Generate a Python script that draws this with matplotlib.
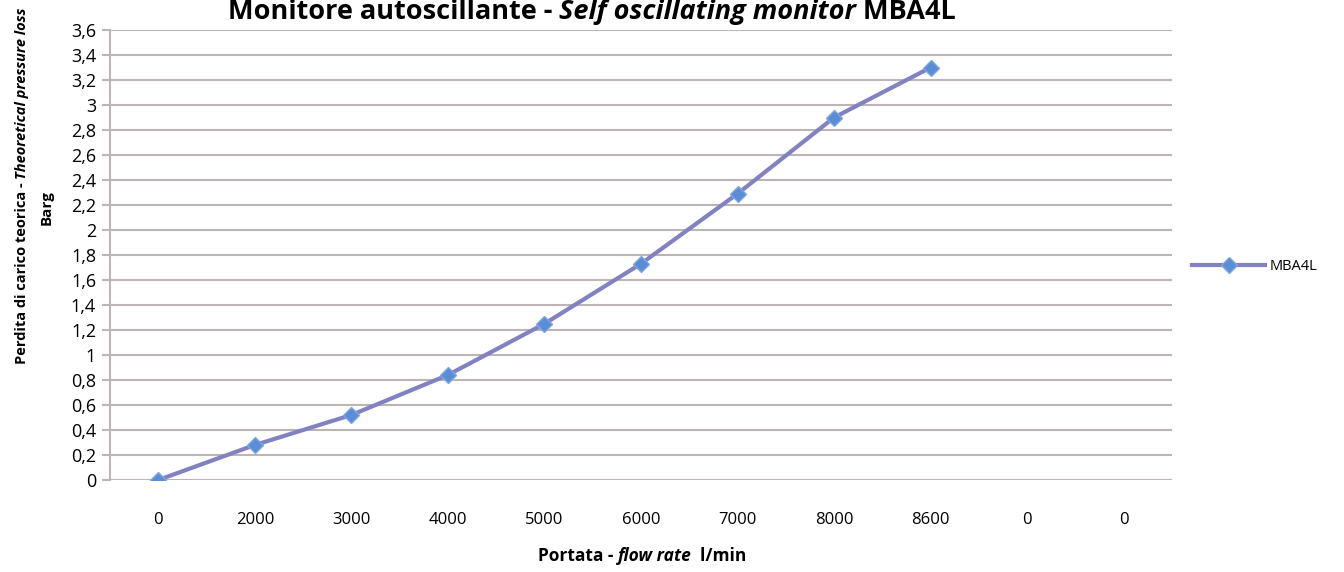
import matplotlib
matplotlib.use('Agg')
import matplotlib.pyplot as plt
import numpy as np

plt.rcParams['font.family'] = ['Open Sans', 'DejaVu Sans']

# dati
categorie = ['0', '2000', '3000', '4000', '5000', '6000', '7000', '8000', '8600', '0', '0']
perdita = [0.0, 0.28, 0.52, 0.84, 1.25, 1.73, 2.29, 2.90, 3.30, np.nan, np.nan]
serie = 'MBA4L'
y_ticks = [0, 0.2, 0.4, 0.6, 0.8, 1, 1.2, 1.4, 1.6, 1.8, 2, 2.2, 2.4, 2.6, 2.8, 3, 3.2, 3.4, 3.6]

W, H = 1344, 572
fig = plt.figure(figsize=(W / 100, H / 100), dpi=100)
ax = fig.add_axes([110 / W, 1 - 480 / H, (1172 - 110) / W, (480 - 30) / H])

x = np.arange(len(categorie))
ax.plot(x, perdita, color='#8282C2', lw=3, marker='D', markersize=8,
        markerfacecolor='#5B8DD6', markeredgecolor='#7FA6E0', markeredgewidth=1,
        label=serie, zorder=3)

ax.set_xlim(-0.5, len(categorie) - 0.5)
ax.set_ylim(0, 3.6)
ax.set_xticks(x)
ax.set_xticklabels(categorie, fontsize=12)
ax.set_yticks(y_ticks)
ax.set_yticklabels([('%g' % v).replace('.', ',') for v in y_ticks], fontsize=13)
ax.tick_params(axis='x', length=0, pad=23)
ax.tick_params(axis='y', length=6, width=1.5, color='#BDB5B5', pad=4)

ax.yaxis.grid(True, color='#BDB5B5', lw=1.5)
ax.set_axisbelow(True)
for s in ['top', 'right', 'bottom']:
    ax.spines[s].set_visible(False)
ax.spines['left'].set_color('#BDB5B5')
ax.spines['left'].set_linewidth(1.5)

ax.legend(loc='center left', bbox_to_anchor=(1.0, 0.475), frameon=False, fontsize=10.5,
          handlelength=5.0, handletextpad=0.3, borderaxespad=1.0)

renderer = fig.canvas.get_renderer()


def testo_misto(cx, cy, pezzi, rotation=0, size=12):
    """scrive pezzi di testo con stili diversi, centrati in (cx, cy) pixel"""
    objs = []
    for t, style in pezzi:
        o = fig.text(0, 0, t, fontsize=size, fontweight='bold', style=style,
                     rotation=rotation, rotation_mode='anchor',
                     ha='left', va='baseline')
        objs.append(o)
    lens = []
    for o in objs:
        bb = o.get_window_extent(renderer)
        lens.append(bb.height if rotation else bb.width)
    tot = sum(lens)
    pos = -tot / 2
    for o, L in zip(objs, lens):
        if rotation:
            o.set_position((cx / W, 1 - (cy - pos) / H))
        else:
            o.set_position(((cx + pos) / W, 1 - cy / H))
        pos += L


testo_misto(592, 19, [('Monitore autoscillante - ', 'normal'),
                      ('Self oscillating monitor', 'italic'),
                      (' MBA4L', 'normal')], size=19.5)
testo_misto(642, 561, [('Portata - ', 'normal'), ('flow rate', 'italic'),
                       ('  l/min', 'normal')], size=12.5)
testo_misto(26, 186, [('Perdita di carico teorica - ', 'normal'),
                      ('Theoretical pressure loss', 'italic')], rotation=90, size=10.5)
testo_misto(51, 208, [('Barg', 'normal')], rotation=90, size=11)

fig.savefig('out.png', dpi=100, facecolor='white')
